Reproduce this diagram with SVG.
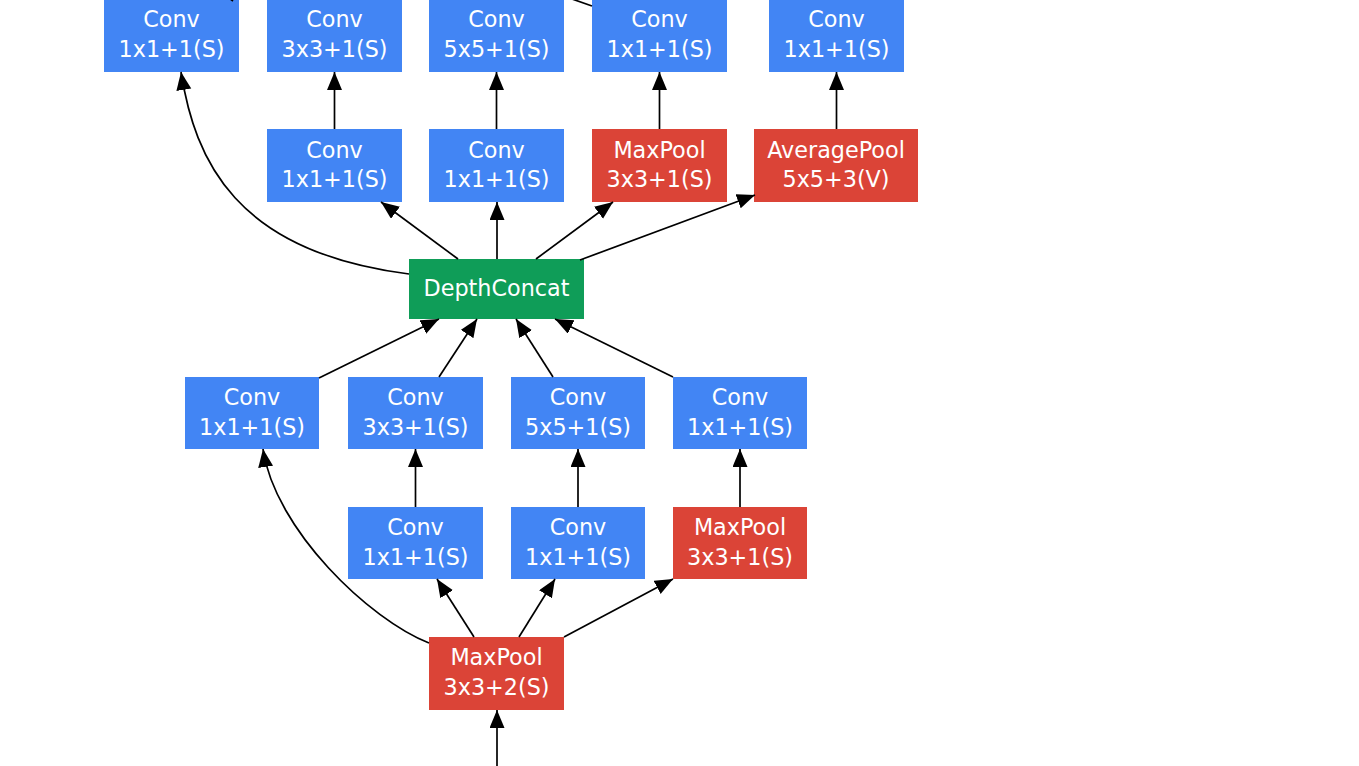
<svg xmlns="http://www.w3.org/2000/svg" width="1359" height="766" viewBox="0 0 1359 766">
  <style>
    .conv rect { fill: #4285F4; }
    .pool rect { fill: #DB4437; }
    .concat rect { fill: #0F9D58; }
    text { font-family: "DejaVu Sans", "Liberation Sans", sans-serif; font-size: 22.3px; fill: #ffffff; text-anchor: middle; }
    .edges path { fill: none; stroke: #000000; stroke-width: 1.7; }
  </style>
  <defs>
    <marker id="arrow" markerUnits="userSpaceOnUse" markerWidth="20" markerHeight="16" refX="18" refY="7.5" orient="auto">
      <path d="M0,0 L18,7.5 L0,15 Z" fill="#000000"/>
    </marker>
  </defs>
  <rect width="1359" height="766" fill="#ffffff"/>

  <!-- top row (continues above) -->
  <g id="conv_a2" class="conv"><rect x="104" y="-1" width="135" height="73"/><text x="171.5" y="27">Conv</text><text x="171.5" y="56.5">1x1+1(S)</text></g>
  <g id="conv_b2" class="conv"><rect x="267" y="-1" width="135" height="73"/><text x="334.5" y="27">Conv</text><text x="334.5" y="56.5">3x3+1(S)</text></g>
  <g id="conv_c2" class="conv"><rect x="429" y="-1" width="135" height="73"/><text x="496.5" y="27">Conv</text><text x="496.5" y="56.5">5x5+1(S)</text></g>
  <g id="conv_d2" class="conv"><rect x="592" y="-1" width="135" height="73"/><text x="659.5" y="27">Conv</text><text x="659.5" y="56.5">1x1+1(S)</text></g>
  <g id="conv_e2" class="conv"><rect x="769" y="-1" width="135" height="73"/><text x="836.5" y="27">Conv</text><text x="836.5" y="56.5">1x1+1(S)</text></g>

  <!-- second row -->
  <g id="reduce_b2" class="conv"><rect x="267" y="129" width="135" height="73"/><text x="334.5" y="157.5">Conv</text><text x="334.5" y="187">1x1+1(S)</text></g>
  <g id="reduce_c2" class="conv"><rect x="429" y="129" width="135" height="73"/><text x="496.5" y="157.5">Conv</text><text x="496.5" y="187">1x1+1(S)</text></g>
  <g id="maxpool_d2" class="pool"><rect x="592" y="129" width="135" height="73"/><text x="659.5" y="157.5">MaxPool</text><text x="659.5" y="187">3x3+1(S)</text></g>
  <g id="avgpool_e2" class="pool"><rect x="754" y="129" width="164" height="73"/><text x="836" y="157.5">AveragePool</text><text x="836" y="187">5x5+3(V)</text></g>

  <!-- concat -->
  <g id="depthconcat" class="concat"><rect x="409" y="259" width="175" height="60"/><text x="496.5" y="296">DepthConcat</text></g>

  <!-- third row -->
  <g id="conv_a1" class="conv"><rect x="185" y="377" width="134" height="72"/><text x="252" y="405">Conv</text><text x="252" y="434.5">1x1+1(S)</text></g>
  <g id="conv_b1" class="conv"><rect x="348" y="377" width="135" height="72"/><text x="415.5" y="405">Conv</text><text x="415.5" y="434.5">3x3+1(S)</text></g>
  <g id="conv_c1" class="conv"><rect x="511" y="377" width="134" height="72"/><text x="578" y="405">Conv</text><text x="578" y="434.5">5x5+1(S)</text></g>
  <g id="conv_d1" class="conv"><rect x="673" y="377" width="134" height="72"/><text x="740" y="405">Conv</text><text x="740" y="434.5">1x1+1(S)</text></g>

  <!-- fourth row -->
  <g id="reduce_b1" class="conv"><rect x="348" y="507" width="135" height="72"/><text x="415.5" y="535">Conv</text><text x="415.5" y="564.5">1x1+1(S)</text></g>
  <g id="reduce_c1" class="conv"><rect x="511" y="507" width="134" height="72"/><text x="578" y="535">Conv</text><text x="578" y="564.5">1x1+1(S)</text></g>
  <g id="maxpool_d1" class="pool"><rect x="673" y="507" width="134" height="72"/><text x="740" y="535">MaxPool</text><text x="740" y="564.5">3x3+1(S)</text></g>

  <!-- input pooling -->
  <g id="maxpool_in" class="pool"><rect x="429" y="637" width="135" height="73"/><text x="496.5" y="665">MaxPool</text><text x="496.5" y="694.5">3x3+2(S)</text></g>

  <g id="connectors" class="edges">
    <path d="M497,766 L497,710" marker-end="url(#arrow)"/>
    <path d="M474,637 L437,579" marker-end="url(#arrow)"/>
    <path d="M519,637 L555,579" marker-end="url(#arrow)"/>
    <path d="M564,637 L673,579" marker-end="url(#arrow)"/>
    <path d="M429,643 C370,620 275,530 263,449" marker-end="url(#arrow)"/>

    <path d="M415.5,507 L415.5,449" marker-end="url(#arrow)"/>
    <path d="M578,507 L578,449" marker-end="url(#arrow)"/>
    <path d="M740,507 L740,449" marker-end="url(#arrow)"/>

    <path d="M319,378 L439,319" marker-end="url(#arrow)"/>
    <path d="M439,377 L477,319" marker-end="url(#arrow)"/>
    <path d="M553,377 L516,319" marker-end="url(#arrow)"/>
    <path d="M673,377 L555,319" marker-end="url(#arrow)"/>

    <path d="M458,259 L381,202" marker-end="url(#arrow)"/>
    <path d="M497,259 L497,202" marker-end="url(#arrow)"/>
    <path d="M536,259 L613,202" marker-end="url(#arrow)"/>
    <path d="M580,260 L755,195" marker-end="url(#arrow)"/>
    <path d="M409,274 C235,252 195,160 181,72" marker-end="url(#arrow)"/>

    <path d="M334.5,129 L334.5,72" marker-end="url(#arrow)"/>
    <path d="M496.5,129 L496.5,72" marker-end="url(#arrow)"/>
    <path d="M659.5,129 L659.5,72" marker-end="url(#arrow)"/>
    <path d="M836.5,129 L836.5,72" marker-end="url(#arrow)"/>

    <!-- edges leaving the top row, continuing above -->
    <path d="M226,-4 L233,1"/>
    <path d="M572,-1 L592,6"/>
  </g>
</svg>
